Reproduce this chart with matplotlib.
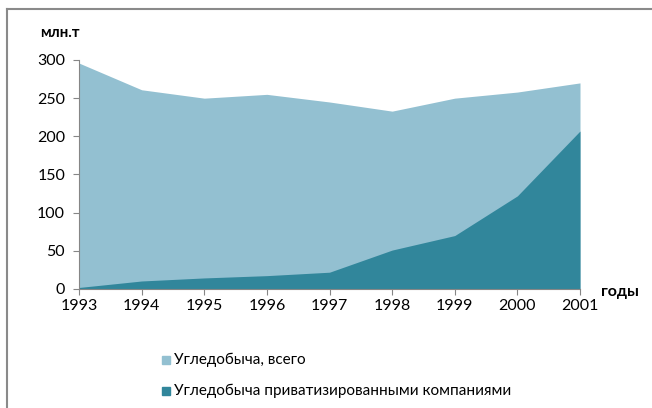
import matplotlib
matplotlib.use("Agg")
import matplotlib.pyplot as plt
from matplotlib.patches import Rectangle
from matplotlib.lines import Line2D

years = [1993, 1994, 1995, 1996, 1997, 1998, 1999, 2000, 2001]
total = [296, 261, 250, 255, 245, 233, 250, 258, 270]
private = [2, 10.5, 14.5, 17.5, 22, 51, 70, 122, 207]
series_names = ["Угледобыча, всего", "Угледобыча приватизированными компаниями"]
y_ticks = [0, 50, 100, 150, 200, 250, 300]

c_light = "#93C0D1"
c_dark = "#31869B"
font = ["Lato", "DejaVu Sans"]
plt.rcParams['font.family'] = font

W, H = 652, 408
fig = plt.figure(figsize=(W / 100, H / 100), dpi=100)
ax = fig.add_axes([79 / W, (H - 289) / H, (580 - 79) / W, (289 - 60) / H])

ax.fill_between(years, 0, total, color=c_light, linewidth=0)
ax.fill_between(years, 0, private, color=c_dark, linewidth=0)

ax.set_xlim(years[0], years[-1])
ax.set_ylim(0, 300)
ax.set_xticks(years)
ax.set_xticklabels([str(y) for y in years], fontsize=11.5)
ax.set_yticks(y_ticks)
ax.set_yticklabels([str(v) for v in y_ticks], fontsize=11.5)
for s in ["top", "right"]:
    ax.spines[s].set_visible(False)
for s in ["left", "bottom"]:
    ax.spines[s].set_color("#868686")
    ax.spines[s].set_linewidth(0.8)
ax.tick_params(axis="both", colors="#868686", labelcolor="black", length=4, width=0.8)
ax.tick_params(axis="x", direction="out", pad=3)
ax.tick_params(axis="y", pad=6)

fig.text(40 / W, 1 - 33 / H, "млн.т", fontsize=10.8, fontweight="bold", va="center", ha="left")
fig.text(601 / W, 1 - 292 / H, "годы", fontsize=11.5, fontweight="bold", va="center", ha="left")

# legend
for i, (name, col) in enumerate(zip(series_names, [c_light, c_dark])):
    yc = 360 + i * 31
    fig.patches.append(Rectangle((162 / W, 1 - (yc + 4) / H), 8 / W, 8 / H,
                                 transform=fig.transFigure, color=col))
    fig.text(174 / W, 1 - yc / H, name, fontsize=11, va="center", ha="left")

# outer frame
fig.add_artist(Line2D([6.5 / W, 1], [1 - 9 / H, 1 - 9 / H], color="#8a8a8a", lw=1.5,
                      transform=fig.transFigure))
fig.add_artist(Line2D([6.5 / W, 6.5 / W], [0, 1 - 9 / H], color="#8a8a8a", lw=1.5,
                      transform=fig.transFigure))

fig.savefig("out.png", dpi=100)
